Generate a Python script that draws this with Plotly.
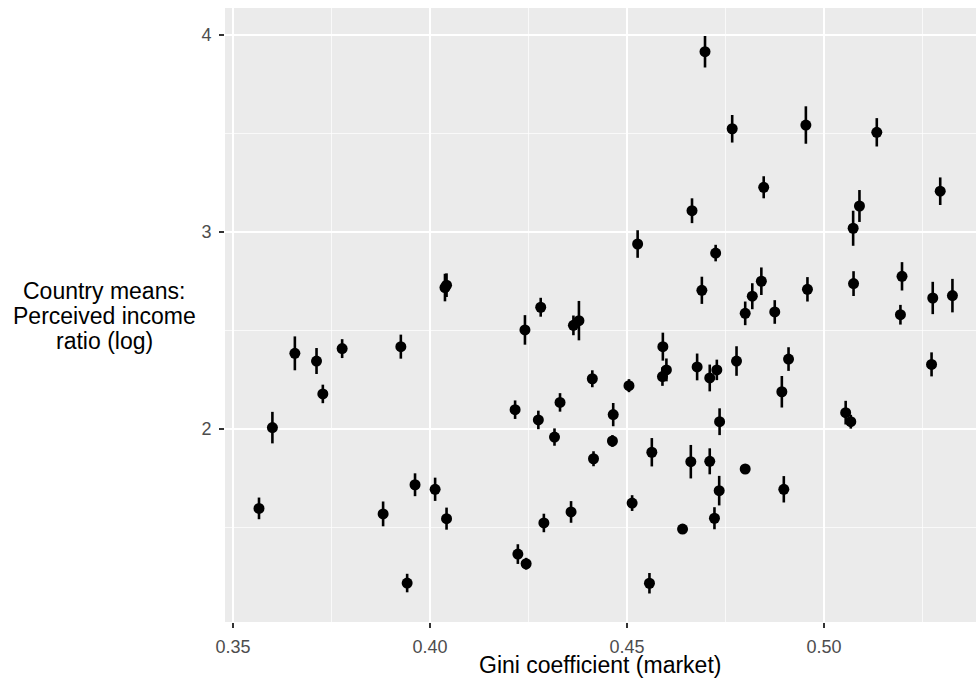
import plotly.graph_objects as go

gini = [0.3566, 0.3600, 0.3657, 0.3712, 0.3728, 0.3777, 0.3881, 0.3926, 0.3942, 0.3962,
        0.4013, 0.4038, 0.4042, 0.4042, 0.4216, 0.4223, 0.4241, 0.4244, 0.4275, 0.4281,
        0.4289, 0.4316, 0.4330, 0.4358, 0.4364, 0.4378, 0.4412, 0.4415, 0.4463, 0.4465,
        0.4505, 0.4513, 0.4527, 0.4557, 0.4563, 0.4590, 0.4591, 0.4600, 0.4641, 0.4662,
        0.4665, 0.4678, 0.4690, 0.4698, 0.4710, 0.4710, 0.4722, 0.4725, 0.4728, 0.4734,
        0.4735, 0.4767, 0.4778, 0.4800, 0.4800, 0.4818, 0.4841, 0.4847, 0.4875, 0.4893,
        0.4898, 0.4910, 0.4954, 0.4958, 0.5055, 0.5068, 0.5074, 0.5075, 0.5090, 0.5134,
        0.5194, 0.5198, 0.5273, 0.5276, 0.5295, 0.5326]
ratio = [1.597, 2.007, 2.384, 2.345, 2.178, 2.408, 1.569, 2.418, 1.218, 1.717,
         1.694, 2.718, 2.730, 1.545, 2.098, 1.365, 2.503, 1.316, 2.046, 2.618,
         1.523, 1.959, 2.135, 1.579, 2.526, 2.550, 2.255, 1.849, 1.939, 2.073,
         2.220, 1.624, 2.939, 1.217, 1.882, 2.266, 2.418, 2.300, 1.492, 1.834,
         3.108, 2.315, 2.704, 3.915, 1.836, 2.259, 1.547, 2.893, 2.300, 1.687,
         2.037, 3.524, 2.345, 1.797, 2.587, 2.674, 2.750, 3.227, 2.594, 2.189,
         1.694, 2.355, 3.543, 2.709, 2.083, 2.037, 3.019, 2.738, 3.132, 3.506,
         2.580, 2.775, 2.328, 2.665, 3.207, 2.677]
err = [0.055, 0.080, 0.086, 0.066, 0.047, 0.048, 0.063, 0.061, 0.047, 0.058,
       0.059, 0.070, 0.060, 0.056, 0.047, 0.050, 0.075, 0.030, 0.047, 0.048,
       0.047, 0.044, 0.047, 0.055, 0.050, 0.100, 0.043, 0.038, 0.030, 0.059,
       0.033, 0.040, 0.070, 0.052, 0.072, 0.047, 0.071, 0.058, 0.025, 0.085,
       0.063, 0.068, 0.069, 0.080, 0.066, 0.068, 0.056, 0.042, 0.052, 0.075,
       0.068, 0.070, 0.075, 0.020, 0.060, 0.066, 0.070, 0.056, 0.060, 0.080,
       0.067, 0.060, 0.095, 0.062, 0.060, 0.035, 0.089, 0.063, 0.081, 0.072,
       0.050, 0.072, 0.061, 0.082, 0.070, 0.085]

x_ticks = [0.35, 0.40, 0.45, 0.50]
x_labels = ["0.35", "0.40", "0.45", "0.50"]
y_ticks = [2, 3, 4]
y_labels = ["2", "3", "4"]
x_title = "Gini coefficient (market)"
y_title_lines = ["Country means:", "Perceived income", "ratio (log)"]

FONT = "Liberation Sans, Arial, Helvetica, sans-serif"

fig = go.Figure()
fig.add_trace(go.Scatter(
    x=gini, y=ratio, mode="markers",
    marker=dict(color="black", size=11, line=dict(width=0)),
    error_y=dict(type="data", array=err, visible=True, color="black",
                 thickness=2.6, width=0),
    showlegend=False, hoverinfo="skip",
))

W, H = 976, 679
L, R, T, B = 225, 0, 8, 57

fig.update_layout(
    width=W, height=H,
    margin=dict(l=L, r=R, t=T, b=B),
    paper_bgcolor="white",
    plot_bgcolor="#EBEBEB",
    font=dict(family=FONT, color="#4D4D4D"),
    xaxis=dict(
        range=[0.34797, 0.53858],
        tickvals=x_ticks, ticktext=x_labels,
        showgrid=True, gridcolor="white", gridwidth=1.6,
        minor=dict(dtick=0.025, tick0=0.35, showgrid=True, gridcolor="white", gridwidth=0.7),
        ticks="outside", ticklen=5, tickwidth=1.2, tickcolor="#333333",
        tickfont=dict(size=18, color="#4D4D4D", family=FONT),
        zeroline=False, showline=False,
        ticklabelstandoff=3,
    ),
    yaxis=dict(
        range=[1.0203, 4.137],
        tickvals=y_ticks, ticktext=y_labels,
        showgrid=True, gridcolor="white", gridwidth=1.6,
        minor=dict(dtick=0.5, tick0=0, showgrid=True, gridcolor="white", gridwidth=0.7),
        ticks="outside", ticklen=5, tickwidth=1.2, tickcolor="#333333",
        tickfont=dict(size=18, color="#4D4D4D", family=FONT),
        zeroline=False, showline=False,
        ticklabelstandoff=4,
    ),
)

pw = W - L - R
ph = H - T - B

def px_x(p):
    return (p - L) / pw

def px_y(p):
    return (H - B - p) / ph

fig.add_annotation(
    text=x_title, xref="paper", yref="paper",
    x=px_x(600), y=px_y(665), xanchor="center", yanchor="middle",
    showarrow=False, font=dict(size=23, color="black", family=FONT),
)
for i, line in enumerate(y_title_lines):
    fig.add_annotation(
        text=line, xref="paper", yref="paper",
        x=px_x(104), y=px_y(291 + 25 * i), xanchor="center", yanchor="middle",
        showarrow=False, font=dict(size=23, color="black", family=FONT),
    )

fig.write_html(
    "out.html",
    config={"displayModeBar": False, "staticPlot": True},
    post_script="document.body.style.margin='0px';document.body.style.overflow='hidden';",
)
